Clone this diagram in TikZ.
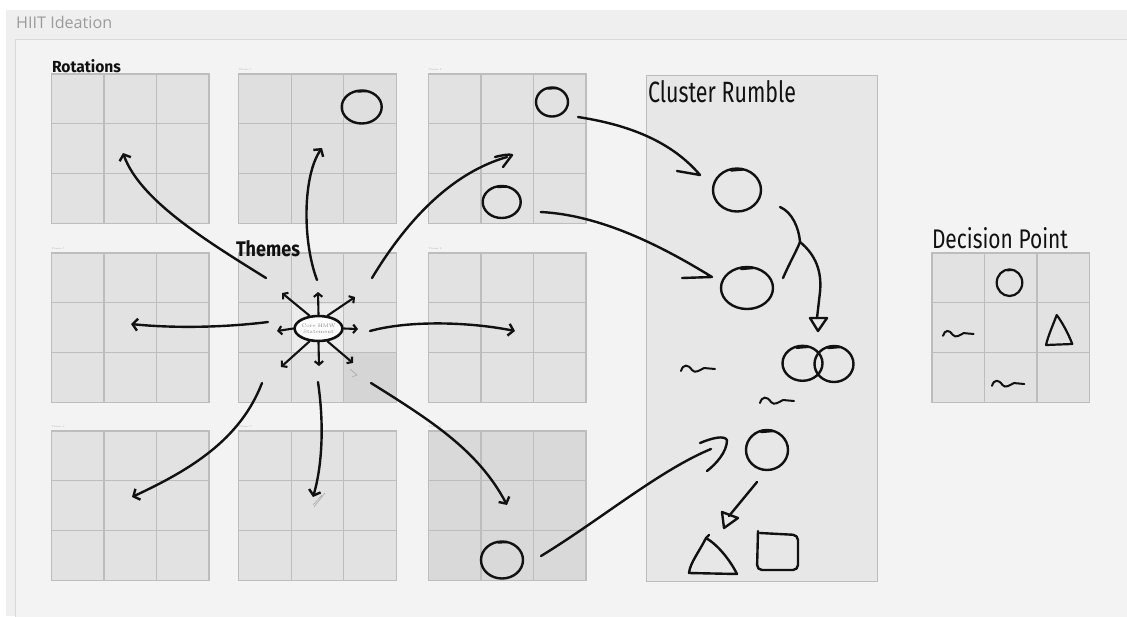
\documentclass[tikz,border=0pt]{standalone}
\usepackage{fontspec}
\newfontfamily\hand{Fira Sans}
\newfontfamily\uifont{Open Sans}
\usetikzlibrary{arrows.meta,shapes.geometric,calc}

\definecolor{headerbg}{HTML}{EFEFEF}
\definecolor{panelbg}{HTML}{F3F3F3}
\definecolor{panelline}{HTML}{D9D9D9}
\definecolor{gridfill}{HTML}{E2E2E2}
\definecolor{gridfillflat}{HTML}{DFDFDF}
\definecolor{gridfilldark}{HTML}{D9D9D9}
\definecolor{gridedge}{HTML}{BDBDBD}
\definecolor{cellpale}{HTML}{ECECEC}
\definecolor{celldark}{HTML}{D5D5D5}
\definecolor{clusterfill}{HTML}{E7E7E7}
\definecolor{inkc}{HTML}{111111}
\definecolor{hdrtext}{HTML}{9C9C9C}
\definecolor{tinyc}{HTML}{B0B0B0}
\definecolor{faint}{HTML}{A8A8A8}

\tikzset{
  gridbox/.style={draw=gridedge, line width=1.3pt, inner sep=0pt, outer sep=0pt,
    anchor=north west, minimum width=157.5pt, minimum height=149.5pt},
  gridrule/.style={draw=gridedge, line width=1.1pt},
  ink/.style={draw=inkc, line width=2.4pt, line cap=round, line join=round},
  thinink/.style={ink, line width=2pt},
  barb/.style={ink, -{Straight Barb[length=5pt,width=12pt]}},
  spoke/.style={ink, line width=2.1pt, -{Straight Barb[length=3.5pt,width=8.5pt]}},
  blob/.style={ellipse, ink, inner sep=0pt, outer sep=0pt},
  handlabel/.style={anchor=north west, inner sep=0pt, outer sep=0pt, text=inkc},
  tinylabel/.style={anchor=south west, inner sep=0pt, text=tinyc,
    font=\fontsize{2.5}{3}\selectfont},
  squig/.pic={\draw[thinink] (0,2) .. controls (2,-5) and (7,-5) .. (11,1)
      .. controls (14,5) and (19,1) .. (23,-1) -- (34,0);},
}

% a 3x3 theme board: name, left, top, fill colour
\newcommand\themegrid[4]{%
  \node[gridbox, fill=#4] (#1) at (#2,#3) {};
  \foreach \k in {1,2} {
    \draw[gridrule] ($(#1.north west)+(\k*52.5,0)$) -- ($(#1.south west)+(\k*52.5,0)$);
    \draw[gridrule] ($(#1.north west)+(0,\k*49.83)$) -- ($(#1.north east)+(0,\k*49.83)$);
  }%
}
% shade one cell of a board: board, column, row, colour
\newcommand\shadecell[4]{%
  \fill[#4] ($(#1.north west)+(#2*52.5+0.7,#3*49.83+0.7)$) rectangle +(51.1,48.4);%
}

\begin{document}
\begin{tikzpicture}[x=1pt,y=-1pt]
\useasboundingbox (0,0) rectangle (1127,616);

% page, header strip and board panel
\fill[white] (0,0) rectangle (1127,616);
\fill[headerbg] (6,10) rectangle (1127,616);
\filldraw[fill=panelbg, draw=panelline, line width=1pt] (15,39.5) rectangle (1135,625);
\node[anchor=north west, inner sep=0pt, text=hdrtext] (title) at (16,16.5)
  {\resizebox{96pt}{!}{\uifont HIIT Ideation}};

% theme boards
\themegrid{gA1}{51.5}{74}{gridfill}
\themegrid{gB1}{238.7}{74}{gridfillflat}
\themegrid{gC1}{428.5}{74}{gridfill}
\themegrid{gA2}{51.5}{253}{gridfill}
\themegrid{gB2}{238.7}{253}{gridfill}
\themegrid{gC2}{428.5}{253}{gridfill}
\themegrid{gA3}{51.5}{431}{gridfill}
\themegrid{gB3}{238.7}{431}{gridfill}
\themegrid{gC3}{428.5}{431}{gridfilldark}
\shadecell{gB2}{1}{1}{cellpale}
\shadecell{gB2}{2}{2}{celldark}

% tiny board captions
\node[tinylabel] (tB1) at ($(gB1.north west)+(0,-3)$) {Theme 1};
\node[tinylabel] (tC1) at ($(gC1.north west)+(0,-3)$) {Theme 2};
\node[tinylabel] (tC2) at ($(gC2.north west)+(0,-3)$) {Theme 3};
\node[tinylabel] (tC3) at ($(gC3.north west)+(0,-3)$) {Theme 4};
\node[tinylabel] (tB3) at ($(gB3.north west)+(0,-3)$) {Theme 5};
\node[tinylabel] (tA3) at ($(gA3.north west)+(0,-3)$) {Theme 6};
\node[tinylabel] (tA2) at ($(gA2.north west)+(0,-3)$) {Theme 7};

% cluster column and decision board
\node[draw=gridedge, fill=clusterfill, line width=1.3pt, anchor=north west,
  minimum width=231pt, minimum height=506pt, inner sep=0pt] (cluster) at (646,75) {};
\themegrid{gD}{932}{253}{gridfill}

% handwritten headings
\node[handlabel] (rotations) at (52,59) {\resizebox{69pt}{13pt}{\hand\bfseries Rotations}};
\node[handlabel] (themes) at (236,240) {\resizebox{64pt}{16pt}{\hand\bfseries Themes}};
\node[handlabel] (clusterlbl) at (648,80) {\resizebox{148pt}{22pt}{\hand Cluster Rumble}};
\node[handlabel] (decision) at (932,227) {\resizebox{136pt}{21pt}{\hand Decision Point}};

% core statement and its spokes
\node[ellipse, ink, line width=2.6pt, fill=white, minimum width=46pt, minimum height=25pt,
  inner sep=0pt, align=center, text=gray, font=\fontsize{5}{6}\selectfont]
  (core) at (318.5,328.5) {Core HMW\\Statement};
\draw[spoke] (core.north) -- (318,292);
\draw[spoke] (core.125) -- (282,293);
\draw[spoke] (core.55) -- (355,297);
\draw[spoke] (core.west) -- (277,331);
\draw[spoke] (core.east) -- (358,329);
\draw[spoke] (core.235) -- (281,367);
\draw[spoke] (core.south) -- (319,366);
\draw[spoke] (core.305) -- (353,363);
% faint stray marks
\draw[faint, line width=0.6pt] (350,369) -- (357,375) -- (352,377);
\draw[faint, line width=0.6pt] (325,493) -- (314,507) (322,495) -- (313,505);

% long arrows out to the theme boards
\coordinate (sA1) at (266,278);  \coordinate (eA1) at (123,153);
\coordinate (sB1) at (317,280);  \coordinate (eB1) at (322,148);
\coordinate (sC1) at (372,278);  \coordinate (eC1) at (507,157);
\coordinate (sA2) at (268,322);  \coordinate (eA2) at (131,324);
\coordinate (sC2) at (370,331);  \coordinate (eC2) at (515,331);
\coordinate (sA3) at (262,383);  \coordinate (eA3) at (132,497);
\coordinate (sB3) at (318,382);  \coordinate (eB3) at (313,497);
\coordinate (sC3) at (371,383);  \coordinate (eC3) at (507,505);
\draw[barb] (sA1) .. controls (205,240) and (140,200) .. (eA1);
\draw[barb] (sB1) .. controls (302,240) and (303,175) .. (eB1);
\draw[ink] (sC1) .. controls (410,215) and (455,172) .. (eC1);
\draw[ink] (495,157) .. controls (503,155) and (509,154) .. (512,155) -- (503,167);
\draw[barb] (sA2) .. controls (220,328) and (170,328) .. (eA2);
\draw[barb] (sC2) .. controls (410,320) and (470,322) .. (eC2);
\draw[barb] (sA3) .. controls (240,440) and (190,470) .. (eA3);
\draw[barb] (sB3) .. controls (325,430) and (321,470) .. (eB3);
\draw[barb] (sC3) .. controls (430,420) and (478,450) .. (eC3);

% ideas on the theme boards
\node[blob, minimum width=40pt, minimum height=33pt] (iB1) at (361.7,107) {};
\node[blob, minimum width=32pt, minimum height=29pt] (iC1a) at (552,102) {};
\node[blob, minimum width=38pt, minimum height=32pt] (iC1b) at (501.7,202) {};
\node[blob, minimum width=42pt, minimum height=37pt] (iC3) at (502,560) {};
\foreach \n in {iB1,iC1a,iC1b,iC3}
  \draw[ink] ($(\n.north)+(-4,1)$) -- ($(\n.north)+(5,0.5)$);

% cluster contents
\node[blob, minimum width=48pt, minimum height=43pt] (k1) at (737,190) {};
\node[blob, minimum width=52pt, minimum height=42pt] (k2) at (747,288) {};
\node[blob, minimum width=40pt, minimum height=35pt] (k3a) at (802.5,363.3) {};
\node[blob, minimum width=39pt, minimum height=36pt] (k3b) at (834,364) {};
\node[blob, minimum width=42pt, minimum height=40pt] (k4) at (767,450) {};
\foreach \n in {k1,k2,k3a,k3b,k4}
  \draw[ink] ($(\n.north)+(-6,2)$) -- ($(\n.north)+(6,1)$);
\pic at (681,369) {squig};
\pic at (760,401) {squig};

% arrows into the cluster
\draw[ink] ($(iC1a.east)+(10,15)$) .. controls (630,125) and (672,142) .. (700,175) -- (677,171);
\draw[ink] ($(iC1b.east)+(20,10)$) .. controls (600,215) and (660,245) .. (712,277) -- (682,278);
\draw[ink] ($(iC3.east)+(18,-4)$) .. controls (600,520) and (660,470) .. (711,449);
\draw[ink] (700,443) .. controls (712,438) and (724,435) .. (727,440) .. controls (727,452) and (716,464) .. (707,471);

% merging of the two upper clusters
\coordinate (merge) at (800,242);
\draw[ink] ($(k1.east)+(19,17)$) .. controls (792,212) and (799,228) .. (merge);
\draw[ink] ($(k2.east)+(10,-10)$) .. controls (790,262) and (796,252) .. (merge);
\draw[ink] (merge) .. controls (816,255) and (822,272) .. (820,292) -- (817,318);
\draw[ink] (810,318) -- (827,318) -- (818,331) -- cycle;

% narrowing down to the final shapes
\draw[ink] ($(k4.south)+(-10,12)$) -- (729,516);
\draw[ink] (722,512) -- (738,518) -- (724,528) -- cycle;
\draw[ink] (706,538) .. controls (699,552) and (690,563) .. (689,573) -- (737,574)
  .. controls (730,560) and (718,545) .. (706,538) -- (709,535);
\draw[ink, rounded corners=5pt] (758,531) -- (757,570) -- (798,570) -- (798,535) -- (760,533);

% decision board contents
\node[blob, line width=2.2pt, minimum width=25.6pt, minimum height=26.6pt] (dO) at (1009.5,282.7) {};
\draw[thinink] ($(dO.north)+(-2,1)$) -- ($(dO.north)+(3,0.5)$);
\draw[ink, line width=2.2pt] (1056.7,315) .. controls (1053,325) and (1048,336) .. (1046,345)
  -- (1072.3,344) .. controls (1068,333) and (1062,322) .. (1056.7,315);
\pic[scale=0.9] at (943,334) {squig};
\pic[scale=0.95] at (992,384) {squig};
\end{tikzpicture}
\end{document}
